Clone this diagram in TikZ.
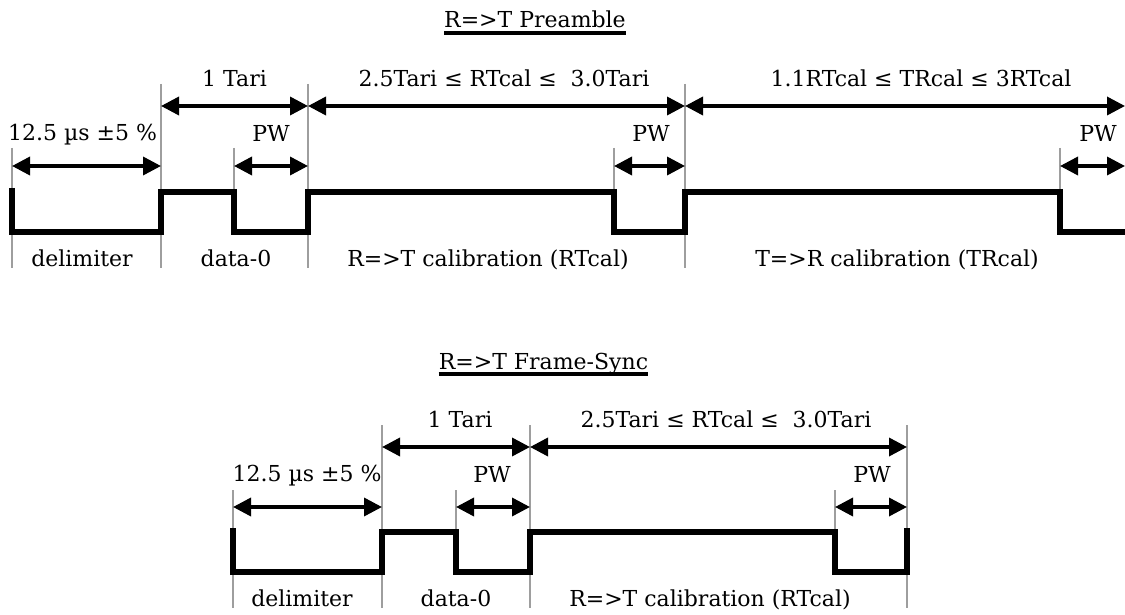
\documentclass[tikz,border=0pt]{standalone}
\usepackage{fontspec}
\setmainfont{DejaVu Serif}
\usetikzlibrary{arrows.meta}
\begin{document}
\begin{tikzpicture}[x=1pt,y=-1pt,
  sig/.style={line width=5.5pt, line join=miter},
  guide/.style={draw=black!38, line width=1.5pt},
  dimline/.style={line width=3.5pt, {Triangle[length=18pt,width=18pt]}-{Triangle[length=18pt,width=18pt]}},
  lbl/.style={font=\fontsize{22}{25}\selectfont, anchor=base, inner sep=0pt},
  uline/.style={line width=3.5pt}]
\useasboundingbox (0,0) rectangle (1125,615);

% ---------- top: R=>T Preamble ----------
\node[lbl] (t1) at (535,28) {R=>T Preamble};
\draw[uline] ([yshift=-5pt]t1.base west) -- ([yshift=-5pt]t1.base east);

% guides: full height, tall, and short (above the signal only)
\coordinate (at) at (12,148);  \coordinate (ab) at (12,268);
\coordinate (ct) at (234,148); \coordinate (cb) at (234,192);
\coordinate (et) at (614,148); \coordinate (eb) at (614,192);
\coordinate (gt) at (1060,148); \coordinate (gb) at (1060,192);
\foreach \n/\x in {b/161,d/308,f/685}{
  \coordinate (\n t) at (\x,84); \coordinate (\n b) at (\x,268);}
\foreach \n in {a,b,c,d,e,f,g}{\draw[guide] (\n t) -- (\n b);}

% dimension end points
\coordinate (r1b) at (161,106); \coordinate (r1d) at (308,106);
\coordinate (r1f) at (685,106); \coordinate (r1h) at (1125,106);
\coordinate (r2a) at (12,166);  \coordinate (r2b) at (161,166);
\coordinate (r2c) at (234,166); \coordinate (r2d) at (308,166);
\coordinate (r2e) at (614,166); \coordinate (r2f) at (685,166);
\coordinate (r2g) at (1060,166); \coordinate (r2h) at (1125,166);
\draw[dimline] (r1b) -- (r1d);
\draw[dimline] (r1d) -- (r1f);
\draw[dimline] (r1f) -- (r1h);
\draw[dimline] (r2a) -- (r2b);
\draw[dimline] (r2c) -- (r2d);
\draw[dimline] (r2e) -- (r2f);
\draw[dimline] (r2g) -- (r2h);

% signal
\draw[sig] (12,188) -- (12,232) -- (161,232) -- (161,192) -- (234,192) -- (234,232)
  -- (308,232) -- (308,192) -- (614,192) -- (614,232) -- (685,232) -- (685,192)
  -- (1060,192) -- (1060,232) -- (1125,232);

% labels
\node[lbl] (tari1) at (234.5,87) {1 Tari};
\node[lbl] (rt1) at (504,87) {2.5Tari ≤ RTcal ≤ \ 3.0Tari};
\node[lbl] (tr1) at (921,87) {1.1RTcal ≤ TRcal ≤ 3RTcal};
\node[lbl] (us1) at (82.5,141) {12.5 µs ±5 \%};
\node[lbl] (pw1a) at (271,142) {PW};
\node[lbl] (pw1b) at (651,142) {PW};
\node[lbl] (pw1c) at (1098,142) {PW};
\node[lbl] (del1) at (82,266) {delimiter};
\node[lbl] (d01) at (236,266) {data-0};
\node[lbl] (cal1) at (488,266) {R=>T calibration (RTcal)};
\node[lbl] (cal2) at (897,266) {T=>R calibration (TRcal)};

% ---------- bottom: R=>T Frame-Sync ----------
\node[lbl] (t2) at (543.5,369) {R=>T Frame-Sync};
\draw[uline] ([yshift=-5pt]t2.base west) -- ([yshift=-5pt]t2.base east);

\coordinate (At) at (233,490); \coordinate (Ab) at (233,608);
\coordinate (Ct) at (456,490); \coordinate (Cb) at (456,532);
\coordinate (Et) at (835,490); \coordinate (Eb) at (835,532);
\foreach \n/\x in {B/382,D/530,F/907}{
  \coordinate (\n t) at (\x,425); \coordinate (\n b) at (\x,608);}
\foreach \n in {A,B,C,D,E,F}{\draw[guide] (\n t) -- (\n b);}

\coordinate (s1B) at (382,447); \coordinate (s1D) at (530,447);
\coordinate (s1F) at (907,447);
\coordinate (s2A) at (233,507); \coordinate (s2B) at (382,507);
\coordinate (s2C) at (456,507); \coordinate (s2D) at (530,507);
\coordinate (s2E) at (835,507); \coordinate (s2F) at (907,507);
\draw[dimline] (s1B) -- (s1D);
\draw[dimline] (s1D) -- (s1F);
\draw[dimline] (s2A) -- (s2B);
\draw[dimline] (s2C) -- (s2D);
\draw[dimline] (s2E) -- (s2F);

\draw[sig] (233,528) -- (233,572) -- (382,572) -- (382,532) -- (456,532) -- (456,572)
  -- (530,572) -- (530,532) -- (835,532) -- (835,572) -- (907,572) -- (907,528);

\node[lbl] (tari2) at (460,427) {1 Tari};
\node[lbl] (rt2) at (726,427) {2.5Tari ≤ RTcal ≤ \ 3.0Tari};
\node[lbl] (us2) at (307,481) {12.5 µs ±5 \%};
\node[lbl] (pw2a) at (492,482) {PW};
\node[lbl] (pw2b) at (872,482) {PW};
\node[lbl] (del2) at (302,606) {delimiter};
\node[lbl] (d02) at (456,606) {data-0};
\node[lbl] (cal3) at (710,606) {R=>T calibration (RTcal)};
\end{tikzpicture}
\end{document}
